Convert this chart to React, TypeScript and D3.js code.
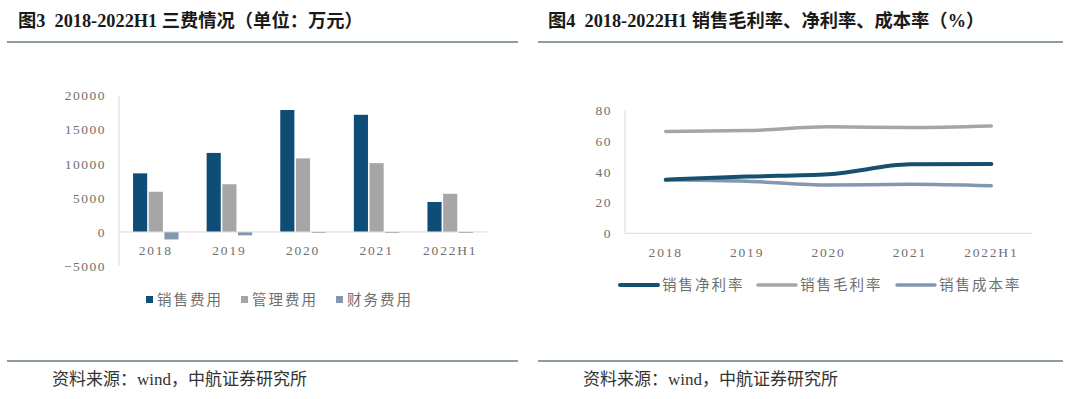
import { useEffect, useRef } from "react";
import * as d3 from "d3";

const years = ["2018", "2019", "2020", "2021", "2022H1"];
const feeNames = ["销售费用", "管理费用", "财务费用"];
const salesFee = [8600, 11600, 17900, 17200, 4400];
const adminFee = [5900, 7000, 10800, 10100, 5600];
const financeFee = [-1100, -500, -150, -30, -150];
const feeTicks = [-5000, 0, 5000, 10000, 15000, 20000];

const rateNames = ["销售净利率", "销售毛利率", "销售成本率"];
const netRate = [35, 37, 38.5, 45, 45.3];
const grossRate = [66.5, 67, 69.5, 69, 70];
const costRate = [35, 34, 31.5, 32, 31];
const rateTicks = [0, 20, 40, 60, 80];

const feeColors = ["#0e4d75", "#a6a6a6", "#8497b0"];
const rateColors = ["#17506f", "#a6a6a6", "#8497b0"];

const serif = "'Liberation Serif', 'DejaVu Serif', serif";
const cjk = "'Liberation Serif', 'Noto Sans CJK SC', serif";
const tickColor = "#6f6f6f";

export default function App() {
  const svgRef = useRef<SVGSVGElement>(null);

  useEffect(() => {
    const svg = d3.select(svgRef.current);
    svg.selectAll("*").remove();

    // titles, rules, sources
    const titles = [
      { x: 18, text: "图3  2018-2022H1 三费情况（单位：万元）", l0: 7, l1: 518, sx: 52 },
      { x: 548, text: "图4  2018-2022H1 销售毛利率、净利率、成本率（%）", l0: 538, l1: 1063, sx: 583 },
    ];
    titles.forEach(t => {
      svg.append("text")
        .attr("x", t.x).attr("y", 27)
        .attr("font-family", cjk).attr("font-size", 18.3).attr("font-weight", "bold")
        .attr("fill", "#1a1a1a")
        .style("white-space", "pre")
        .text(t.text);
      [42, 361].forEach(y => {
        svg.append("line")
          .attr("x1", t.l0).attr("x2", t.l1).attr("y1", y).attr("y2", y)
          .attr("stroke", "#8e9ca6").attr("stroke-width", 2);
      });
      svg.append("text")
        .attr("x", t.sx).attr("y", 385)
        .attr("font-family", cjk).attr("font-size", 17)
        .attr("fill", "#333")
        .text("资料来源：wind，中航证券研究所");
    });

    // ---- left: bar chart
    const x0 = d3.scaleBand().domain(years).range([119, 487]);
    const x1 = d3.scaleBand().domain(feeNames).range([0, 45.5]).paddingInner(0.1);
    const y = d3.scaleLinear().domain([-5000, 20000]).range([266, 95.7]);
    const series = [salesFee, adminFee, financeFee];

    const left = svg.append("g");
    left.append("line")
      .attr("x1", 119).attr("x2", 119).attr("y1", y(20000)).attr("y2", y(-5000))
      .attr("stroke", "#d9d9d9");

    series.forEach((vals, si) => {
      left.selectAll(`rect.s${si}`)
        .data(vals)
        .enter()
        .append("rect")
        .attr("x", (_, i) => x0(years[i])! + (x0.bandwidth() - 45.5) / 2 + x1(feeNames[si])!)
        .attr("y", d => y(Math.max(0, d)))
        .attr("width", x1.bandwidth())
        .attr("height", d => Math.max(1, Math.abs(y(d) - y(0))))
        .attr("fill", feeColors[si]);
    });

    left.append("line")
      .attr("x1", 119).attr("x2", 487).attr("y1", y(0)).attr("y2", y(0))
      .attr("stroke", "#d9d9d9");

    left.selectAll("text.ytick")
      .data(feeTicks)
      .enter()
      .append("text")
      .attr("x", 106).attr("y", d => y(d))
      .attr("dy", "0.35em").attr("text-anchor", "end")
      .attr("font-family", serif).attr("font-size", 13.5).attr("letter-spacing", 1.5)
      .attr("fill", tickColor)
      .text(d => (d < 0 ? "−" + Math.abs(d) : String(d)));

    left.selectAll("text.xtick")
      .data(years)
      .enter()
      .append("text")
      .attr("x", d => x0(d)! + x0.bandwidth() / 2).attr("y", 250)
      .attr("dy", "0.35em").attr("text-anchor", "middle")
      .attr("font-family", serif).attr("font-size", 13.5).attr("letter-spacing", 1.8)
      .attr("fill", tickColor)
      .text(d => d);

    const legX = [146, 241, 336];
    feeNames.forEach((n, i) => {
      left.append("rect")
        .attr("x", legX[i]).attr("y", 296).attr("width", 7).attr("height", 7)
        .attr("fill", feeColors[i]);
      left.append("text")
        .attr("x", legX[i] + 11).attr("y", 300)
        .attr("dy", "0.35em")
        .attr("font-family", "'Noto Sans CJK SC', sans-serif").attr("font-size", 14.5)
        .attr("letter-spacing", 2).attr("fill", tickColor)
        .text(n);
    });

    // ---- right: line chart
    const xp = d3.scalePoint().domain(years).range([625, 1032]).padding(0.5);
    const yr = d3.scaleLinear().domain([0, 80]).range([233.3, 110.7]);
    const right = svg.append("g");

    right.append("line")
      .attr("x1", 625).attr("x2", 625).attr("y1", yr(80)).attr("y2", yr(0))
      .attr("stroke", "#d9d9d9");
    right.append("line")
      .attr("x1", 625).attr("x2", 1032).attr("y1", yr(0)).attr("y2", yr(0))
      .attr("stroke", "#d9d9d9");

    right.selectAll("text.ytick")
      .data(rateTicks)
      .enter()
      .append("text")
      .attr("x", 612).attr("y", d => yr(d))
      .attr("dy", "0.35em").attr("text-anchor", "end")
      .attr("font-family", serif).attr("font-size", 13.5).attr("letter-spacing", 1.5)
      .attr("fill", tickColor)
      .text(d => d);

    right.selectAll("text.xtick")
      .data(years)
      .enter()
      .append("text")
      .attr("x", d => xp(d)!).attr("y", 252)
      .attr("dy", "0.35em").attr("text-anchor", "middle")
      .attr("font-family", serif).attr("font-size", 13.5).attr("letter-spacing", 1.8)
      .attr("fill", tickColor)
      .text(d => d);

    const line = d3.line<number>()
      .x((_, i) => xp(years[i])!)
      .y(d => yr(d))
      .curve(d3.curveMonotoneX);

    const rateSeries = [grossRate, costRate, netRate];
    const rateIdx = [1, 2, 0];
    rateSeries.forEach((vals, k) => {
      const ci = rateIdx[k];
      right.append("path")
        .attr("d", line(vals))
        .attr("fill", "none")
        .attr("stroke", rateColors[ci])
        .attr("stroke-width", ci === 0 ? 4 : 3.5)
        .attr("stroke-linecap", "round");
    });

    const lx = [620, 758, 897];
    rateNames.forEach((n, i) => {
      right.append("line")
        .attr("x1", lx[i]).attr("x2", lx[i] + 38).attr("y1", 285).attr("y2", 285)
        .attr("stroke", rateColors[i]).attr("stroke-width", i === 0 ? 4 : 3.5)
        .attr("stroke-linecap", "round");
      right.append("text")
        .attr("x", lx[i] + 42).attr("y", 285)
        .attr("dy", "0.35em")
        .attr("font-family", "'Noto Sans CJK SC', sans-serif").attr("font-size", 14.5)
        .attr("letter-spacing", 2).attr("fill", tickColor)
        .text(n);
    });
  }, []);

  return (
    <div style={{ position: "absolute", left: 0, top: 0, background: "#fff" }}>
      <svg ref={svgRef} width={1080} height={399} style={{ display: "block" }}></svg>
    </div>
  );
}
